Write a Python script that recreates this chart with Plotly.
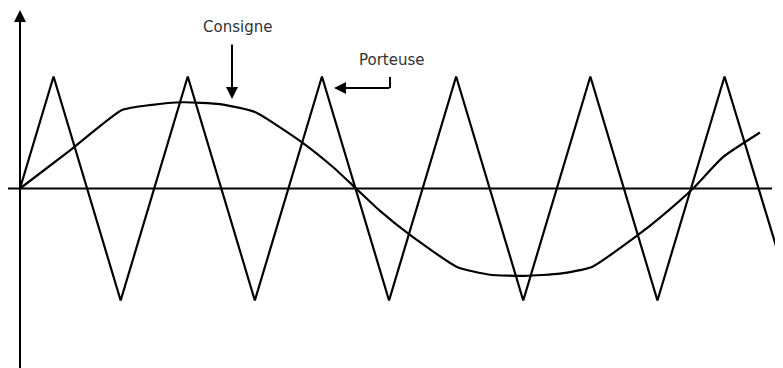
import plotly.graph_objects as go

# ---- data ----
porteuse_t = [0, 0.25, 0.75, 1.25, 1.75, 2.25, 2.75, 3.25, 3.75, 4.25, 4.75, 5.25, 5.686]
porteuse_v = [0, 1, -1, 1, -1, 1, -1, 1, -1, 1, -1, 1, -0.72]

consigne_t = [0, 0.373, 0.760, 0.969, 1.215, 1.490, 1.751, 2.109, 2.332, 2.504, 2.683,
              2.906, 3.256, 3.502, 3.763, 4.024, 4.262, 4.605, 4.769, 5.015, 5.238, 5.514]
consigne_v = [0, 0.34, 0.70, 0.745, 0.77, 0.754, 0.683, 0.406, 0.192, 0.0, -0.20,
              -0.415, -0.70, -0.77, -0.78, -0.76, -0.70, -0.415, -0.26, 0.0, 0.28, 0.50]

labels = ["Consigne", "Porteuse"]

# ---- layout geometry (pixel -> data helpers, in screenshot pixels) ----
W, H = 783, 368
PAGE_OFF = 8  # default body margin of the html page
X0PX, PERIOD_PX = 20, 134.2
Y0PX, AMP_PX = 188.5, 112.0
def tx(px):
    return (px - X0PX) / PERIOD_PX
def vy(py):
    return (Y0PX - py) / AMP_PX

xr = [tx(PAGE_OFF), tx(PAGE_OFF + W)]
yr = [vy(PAGE_OFF + H), vy(PAGE_OFF)]

fig = go.Figure()
fig.add_trace(go.Scatter(x=porteuse_t, y=porteuse_v, mode="lines",
                         line=dict(color="black", width=2.2), name=labels[1],
                         hoverinfo="skip"))
fig.add_trace(go.Scatter(x=consigne_t, y=consigne_v, mode="lines",
                         line=dict(color="black", width=2.2, shape="spline", smoothing=0.5),
                         name=labels[0], hoverinfo="skip"))

shapes = [
    # horizontal axis
    dict(type="line", x0=tx(8), x1=tx(772), y0=0, y1=0,
         line=dict(color="black", width=2), layer="below"),
    # elbow of the Porteuse pointer
    dict(type="line", x0=tx(390), x1=tx(390), y0=vy(77), y1=vy(88),
         line=dict(color="black", width=2)),
]

annotations = [
    # vertical axis with arrow
    dict(x=0, y=vy(10), ax=0, ay=vy(H + 10), xref="x", yref="y", axref="x", ayref="y",
         showarrow=True, arrowhead=2, arrowsize=1.2, arrowwidth=2, arrowcolor="black", text=""),
    # Consigne label + arrow
    dict(x=tx(237), y=vy(27), text=labels[0], showarrow=False, xref="x", yref="y",
         font=dict(family="DejaVu Sans", size=15, color="#333333")),
    dict(x=tx(232), y=vy(99), ax=tx(232), ay=vy(43), xref="x", yref="y", axref="x", ayref="y",
         showarrow=True, arrowhead=2, arrowsize=1.2, arrowwidth=2, arrowcolor="black", text=""),
    # Porteuse label + arrow
    dict(x=tx(392), y=vy(60), text=labels[1], showarrow=False, xref="x", yref="y",
         font=dict(family="DejaVu Sans", size=15, color="#333333")),
    dict(x=tx(334), y=vy(88), ax=tx(391), ay=vy(88), xref="x", yref="y", axref="x", ayref="y",
         showarrow=True, arrowhead=2, arrowsize=1.2, arrowwidth=2, arrowcolor="black", text=""),
]

fig.update_layout(
    width=W, height=H,
    margin=dict(l=0, r=0, t=0, b=0),
    paper_bgcolor="white", plot_bgcolor="white",
    showlegend=False,
    xaxis=dict(range=xr, visible=False, fixedrange=True),
    yaxis=dict(range=yr, visible=False, fixedrange=True),
    shapes=shapes, annotations=annotations,
)

fig.write_html("out.html")
